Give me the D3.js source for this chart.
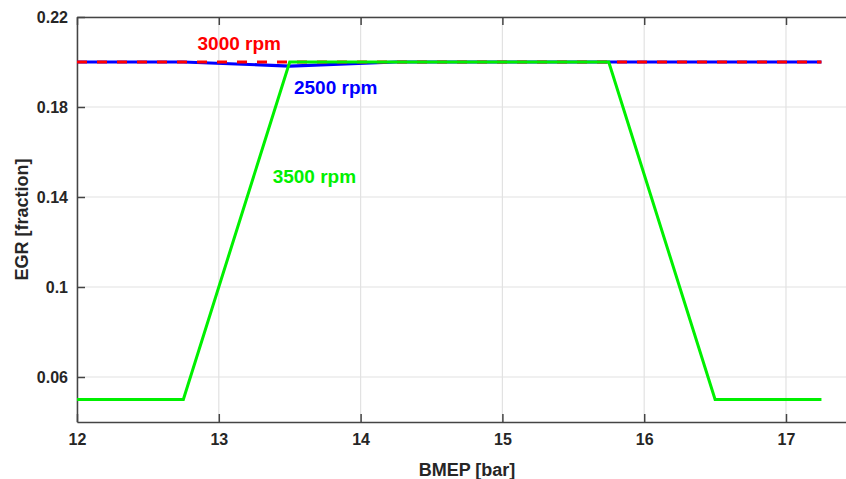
<!DOCTYPE html>
<html>
<head>
<meta charset="utf-8">
<script src="https://cdn.jsdelivr.net/npm/d3@7"></script>
<style>
  html, body { margin: 0; padding: 0; background: #fff; overflow: hidden; }
  svg { display: block; font-family: "Liberation Sans", Arial, sans-serif; }
</style>
</head>
<body>
<svg id="chart" width="846" height="479"></svg>
<script>
// ---- data ----
const bmep = [12, 12.75, 13.5, 14.25, 15, 15.75, 16.5, 17.25];
const egr2500 = [0.2, 0.2, 0.1982, 0.2, 0.2, 0.2, 0.2, 0.2];
const egr3000 = [0.2, 0.2, 0.2, 0.2, 0.2, 0.2, 0.2, 0.2];
const egr3500 = [0.05, 0.05, 0.2, 0.2, 0.2, 0.2, 0.05, 0.05];
const xTicks = [12, 13, 14, 15, 16, 17];
const yTicks = [0.06, 0.1, 0.14, 0.18, 0.22];
const seriesNames = ["2500 rpm", "3000 rpm", "3500 rpm"];
const seriesColors = ["#0000ff", "#ff0000", "#00f000"];

// ---- layout ----
const svg = d3.select("#chart");
const mLeft = 77, mTop = 17, mBottom = 422;
const x = d3.scaleLinear().domain([12, 17.5]).range([mLeft, mLeft + 5.5 * 141.8]);
const y = d3.scaleLinear().domain([0.04, 0.22]).range([mBottom, mTop]);
const mRight = x(17.5);

// grid
const grid = svg.append("g");
grid.selectAll("line.vx").data(xTicks).join("line")
  .attr("x1", d => x(d)).attr("x2", d => x(d))
  .attr("y1", mTop).attr("y2", mBottom)
  .attr("stroke", "#e2e2e2").attr("stroke-width", 1.2);
grid.selectAll("line.hy").data(yTicks).join("line")
  .attr("x1", mLeft).attr("x2", mRight)
  .attr("y1", d => y(d)).attr("y2", d => y(d))
  .attr("stroke", "#e2e2e2").attr("stroke-width", 1.2);

// axes
const axisColor = "#444";
const fmt = d => String(d);
const bx = svg.append("g").attr("transform", `translate(0,${mBottom})`)
  .call(d3.axisBottom(x).tickValues(xTicks).tickFormat(fmt).tickSizeInner(-8).tickSizeOuter(0).tickPadding(12));
const tx = svg.append("g").attr("transform", `translate(0,${mTop})`)
  .call(d3.axisTop(x).tickValues(xTicks).tickFormat("").tickSizeInner(-8).tickSizeOuter(0));
const ly = svg.append("g").attr("transform", `translate(${mLeft},0)`)
  .call(d3.axisLeft(y).tickValues(yTicks).tickFormat(fmt).tickSizeInner(-8).tickSizeOuter(0).tickPadding(9));
[bx, tx, ly].forEach(g => {
  g.select(".domain").attr("stroke", axisColor).attr("stroke-width", 1.5);
  g.selectAll(".tick line").attr("stroke", axisColor).attr("stroke-width", 1.5);
  g.selectAll(".tick text").attr("fill", "#262626").attr("font-size", 16).attr("font-weight", "bold")
    .attr("font-family", "'Liberation Sans', Arial, sans-serif");
});

// lines
const line = d3.line().x(d => x(d[0])).y(d => y(d[1]));
const mk = arr => bmep.map((b, i) => [b, arr[i]]);
svg.append("path").datum(mk(egr2500)).attr("d", line)
  .attr("fill", "none").attr("stroke", seriesColors[0]).attr("stroke-width", 3.2);
svg.append("path").datum(mk(egr3000)).attr("d", line)
  .attr("fill", "none").attr("stroke", seriesColors[1]).attr("stroke-width", 3.2)
  .attr("stroke-dasharray", "10,10");
svg.append("path").datum(mk(egr3500)).attr("d", line)
  .attr("fill", "none").attr("stroke", seriesColors[2]).attr("stroke-width", 3);

// labels
const labels = [
  { t: seriesNames[1], c: seriesColors[1], x: 12.85, y: 0.2053 },
  { t: seriesNames[0], c: seriesColors[0], x: 13.53, y: 0.1858 },
  { t: seriesNames[2], c: seriesColors[2], x: 13.38, y: 0.1464 }
];
svg.selectAll("text.lab").data(labels).join("text")
  .attr("x", d => x(d.x)).attr("y", d => y(d.y))
  .attr("fill", d => d.c).attr("font-size", 19).attr("font-weight", "bold")
  .text(d => d.t);

// axis titles
svg.append("text").attr("x", 467).attr("y", 476)
  .attr("text-anchor", "middle").attr("font-size", 18).attr("font-weight", "bold").attr("fill", "#262626")
  .text("BMEP [bar]");
svg.append("text").attr("transform", `translate(28,${(mTop + mBottom) / 2}) rotate(-90)`)
  .attr("text-anchor", "middle").attr("font-size", 18).attr("font-weight", "bold").attr("fill", "#262626")
  .text("EGR [fraction]");
</script>
</body>
</html>
